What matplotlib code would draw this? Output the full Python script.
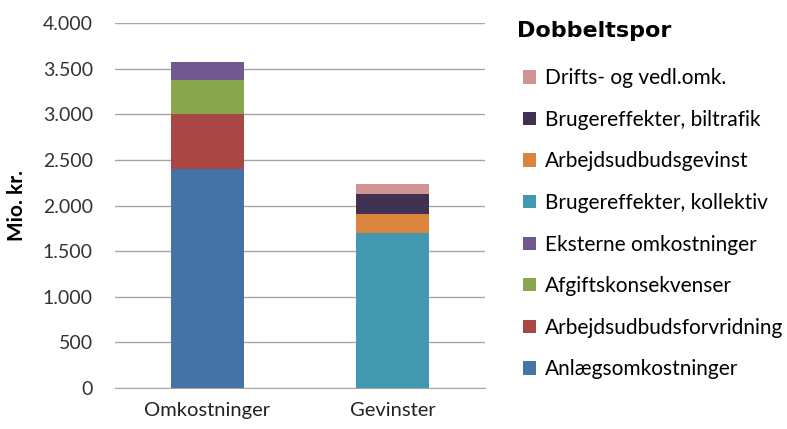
import matplotlib
matplotlib.use("Agg")
import matplotlib.pyplot as plt
from matplotlib.patches import Patch
from matplotlib.ticker import FuncFormatter

plt.rcParams['font.family'] = ['Lato', 'DejaVu Sans']

categories = ["Omkostninger", "Gevinster"]

# Stack components per category (Mio. kr.), bottom to top
series = [
    ("Anlægsomkostninger",          [2400, 0],    "#4572A7"),
    ("Arbejdsudbudsforvridning",    [600, 0],     "#AA4643"),
    ("Afgiftskonsekvenser",         [370, 0],     "#89A54E"),
    ("Eksterne omkostninger",       [200, 0],     "#71588F"),
    ("Brugereffekter, kollektiv",   [0, 1700],    "#4198AF"),
    ("Arbejdsudbudsgevinst",        [0, 212],     "#DB843D"),
    ("Brugereffekter, biltrafik",   [0, 212],     "#403152"),
    ("Drifts- og vedl.omk.",        [0, 110],     "#D09493"),
]

y_ticks = [0, 500, 1000, 1500, 2000, 2500, 3000, 3500, 4000]

fig = plt.figure(figsize=(7.87, 4.29), dpi=100)
ax = fig.add_axes([115 / 787, 1 - 388 / 429, 370 / 787, 365 / 429])

x = list(range(len(categories)))
bottoms = [0] * len(categories)
for name, vals, color in series:
    ax.bar(x, vals, width=0.39, bottom=bottoms, color=color, zorder=3)
    bottoms = [b + v for b, v in zip(bottoms, vals)]

ax.set_xlim(-0.5, 1.5)
ax.set_ylim(0, 4000)
ax.set_yticks(y_ticks)
ax.yaxis.set_major_formatter(FuncFormatter(lambda v, p: f"{int(v):,}".replace(",", ".")))
ax.set_xticks(x)
ax.set_xticklabels(categories)
ax.grid(axis='y', color='#A6A6A6', linewidth=1.0, zorder=0)
for s in ['top', 'right', 'left']:
    ax.spines[s].set_visible(False)
ax.spines['bottom'].set_color('#A6A6A6')
ax.tick_params(axis='y', length=0, pad=16, labelsize=14, colors='#333333')
ax.tick_params(axis='x', length=0, pad=10, labelsize=14.5, colors='#222222')
ax.set_ylabel("Mio. kr.", fontsize=15, fontweight='bold')
ax.yaxis.set_label_coords(-0.238, 0.5)

handles = [Patch(facecolor=c, edgecolor='none') for _, _, c in series][::-1]
labels = [n for n, _, _ in series][::-1]
fig.text(517 / 787, 1 - 31 / 429, "Dobbeltspor", fontsize=16, fontweight='bold',
         va='center', ha='left', family='DejaVu Sans')
leg = fig.legend(handles, labels, loc='upper left',
                 bbox_to_anchor=(515 / 787, 1 - 60 / 429),
                 frameon=False, fontsize=15, handlelength=0.6, handleheight=0.6,
                 handletextpad=0.42, labelspacing=1.035, borderaxespad=0)

fig.savefig("out.png", dpi=100)
